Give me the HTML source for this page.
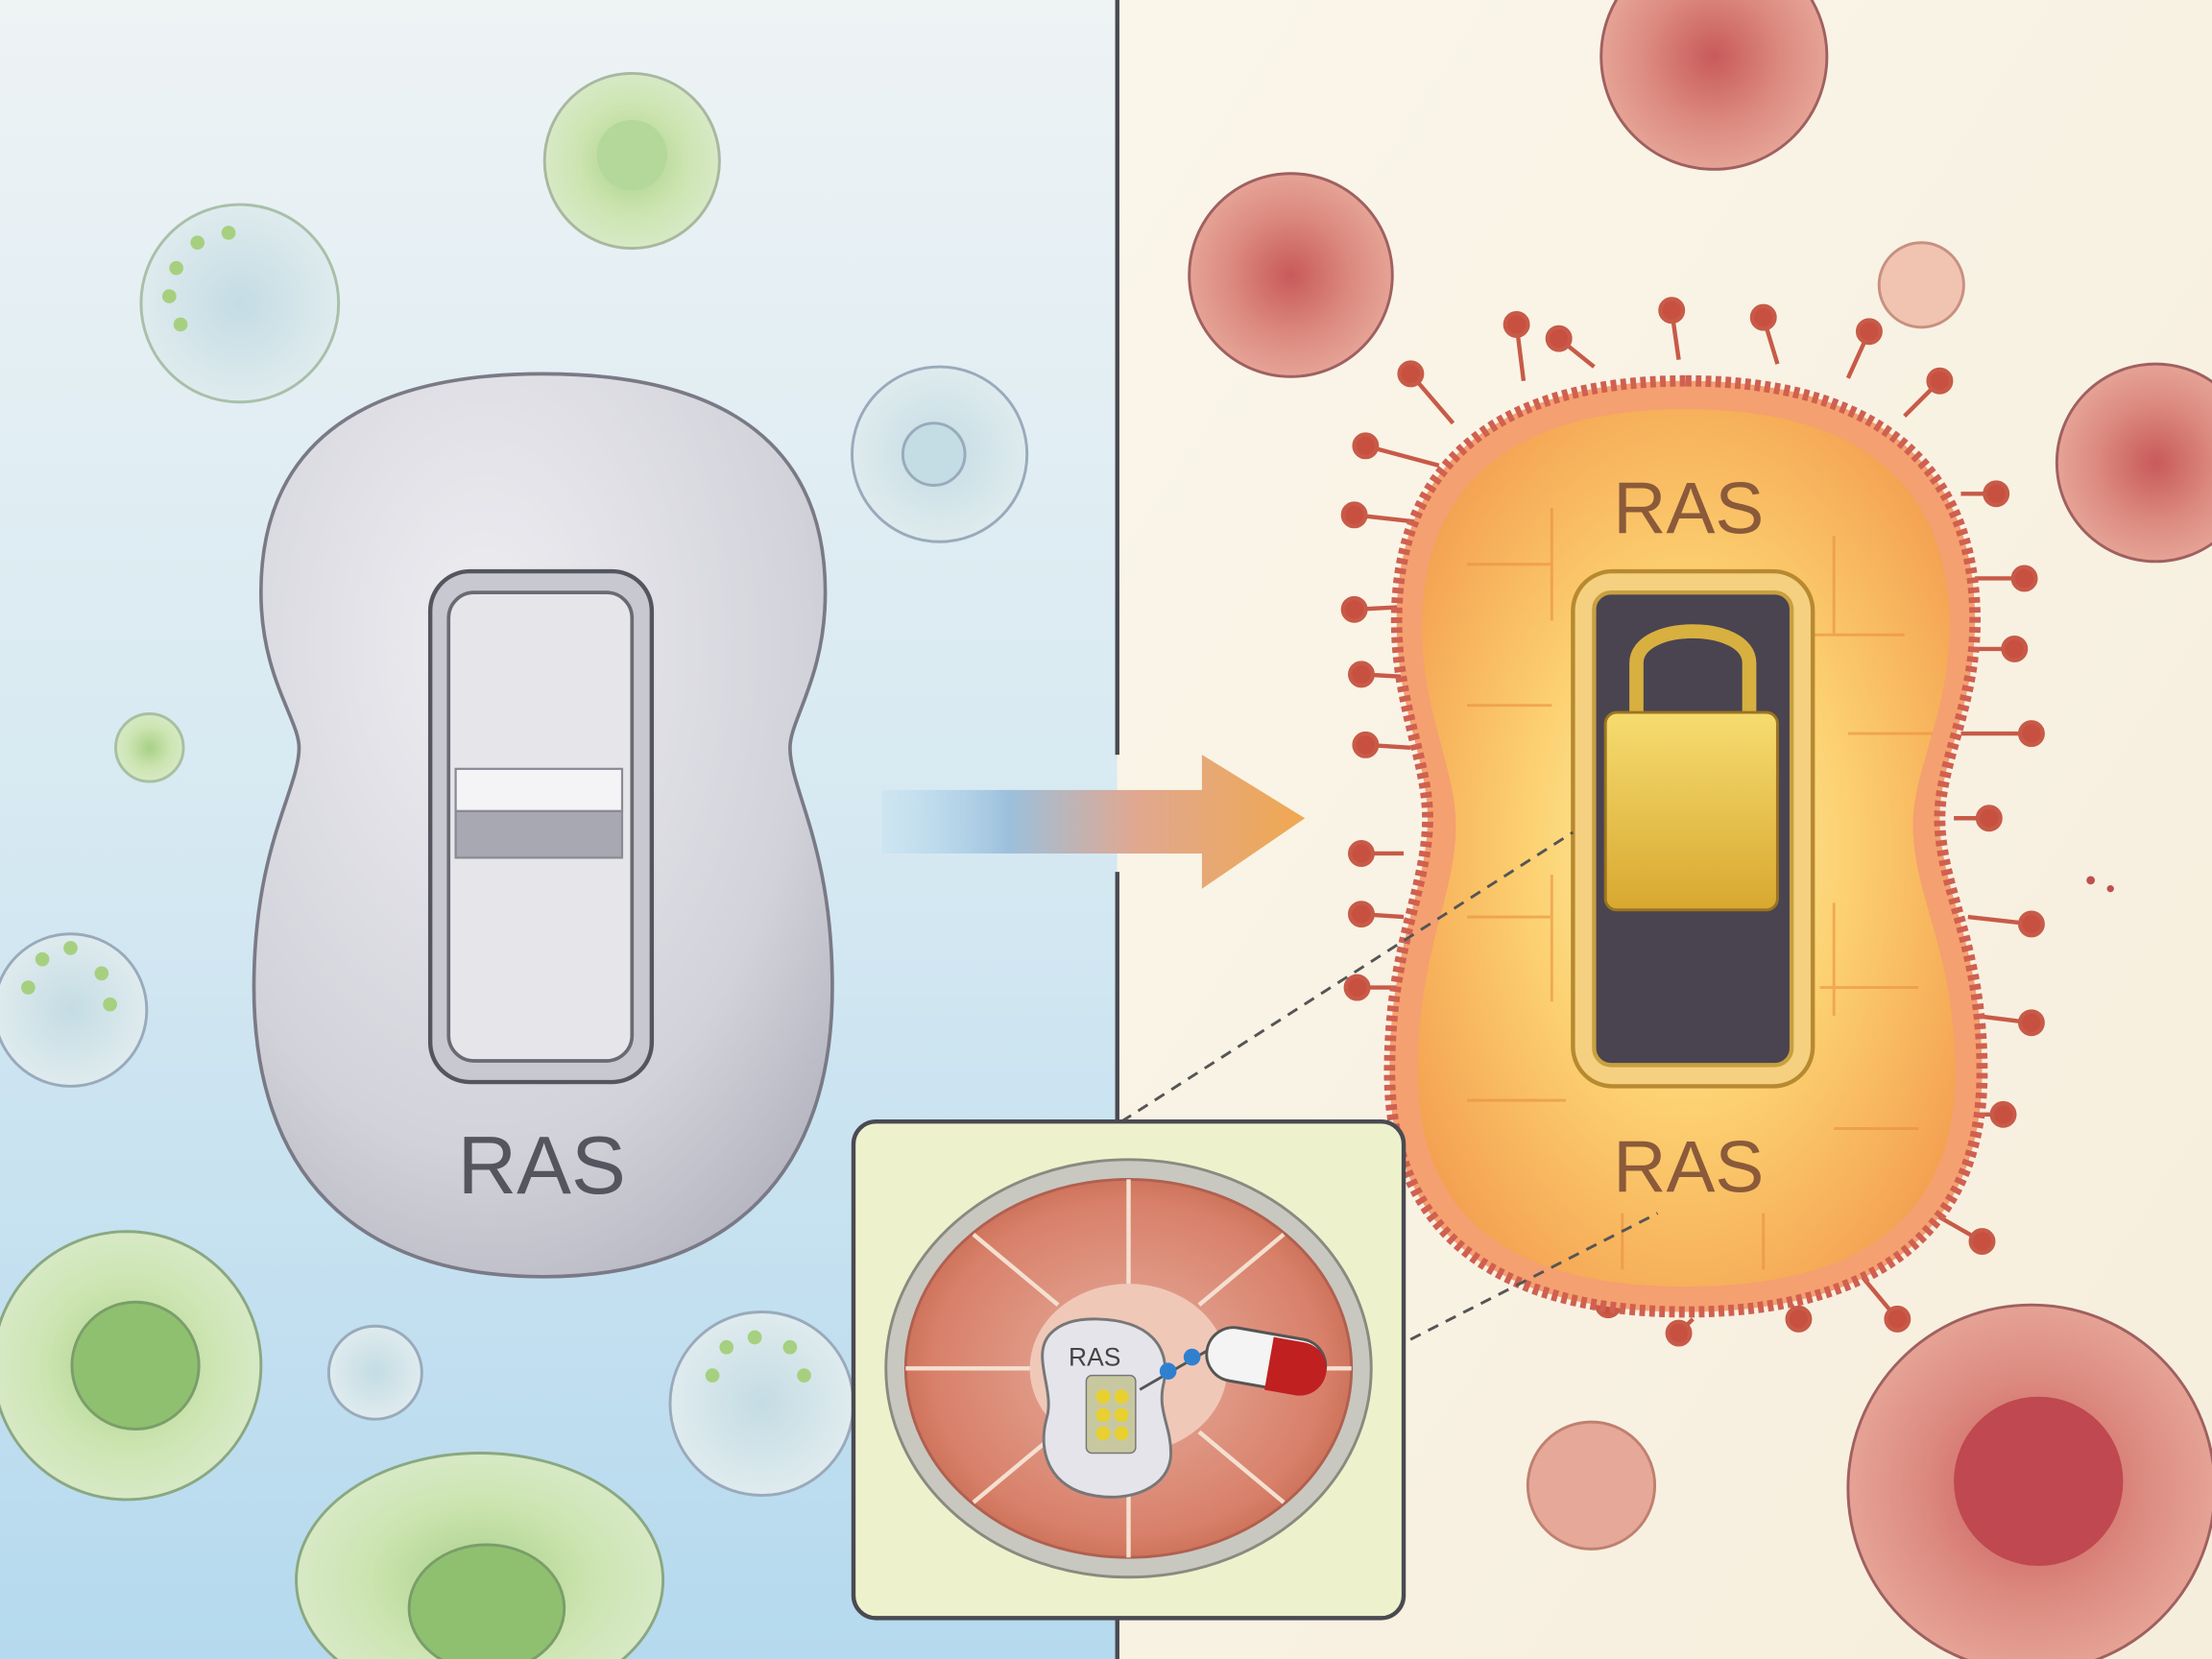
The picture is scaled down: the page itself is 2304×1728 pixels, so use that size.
<!DOCTYPE html>
<html><head><meta charset="utf-8"><style>
html,body{margin:0;padding:0;width:2304px;height:1728px;overflow:hidden;background:#f8f3e4}
svg{display:block}
text{font-family:"Liberation Sans",sans-serif}
</style></head><body>
<svg width="2304" height="1728" viewBox="0 0 1568 1176" xmlns="http://www.w3.org/2000/svg">
<defs>
<linearGradient id="lbg" x1="0" y1="0" x2="0" y2="1">
<stop offset="0" stop-color="#eef3f4"/><stop offset="0.5" stop-color="#d6e9f2"/><stop offset="1" stop-color="#b5d9ee"/></linearGradient>
<linearGradient id="rbg" x1="0" y1="0" x2="1" y2="1">
<stop offset="0" stop-color="#faf6ea"/><stop offset="1" stop-color="#f6eedc"/></linearGradient>
<linearGradient id="arr" x1="0" y1="0" x2="1" y2="0">
<stop offset="0" stop-color="#b8dcef" stop-opacity="0.3"/><stop offset="0.3" stop-color="#9cc0dc"/><stop offset="0.6" stop-color="#e0a890"/><stop offset="1" stop-color="#f0a850"/></linearGradient>
<radialGradient id="gray" cx="0.4" cy="0.3" r="0.8">
<stop offset="0" stop-color="#eeeef2"/><stop offset="0.7" stop-color="#d2d2da"/><stop offset="1" stop-color="#b4b4c0"/></radialGradient>
<radialGradient id="orange" cx="0.5" cy="0.5" r="0.6">
<stop offset="0" stop-color="#fff4b0"/><stop offset="0.5" stop-color="#fcd070"/><stop offset="1" stop-color="#f4a050"/></radialGradient>
<linearGradient id="gold" x1="0" y1="0" x2="0" y2="1">
<stop offset="0" stop-color="#f6dc70"/><stop offset="1" stop-color="#d8a830"/></linearGradient>
<radialGradient id="redcell" cx="0.5" cy="0.5" r="0.6">
<stop offset="0" stop-color="#c85a5a"/><stop offset="0.5" stop-color="#dc8a80"/><stop offset="1" stop-color="#eab0a0"/></radialGradient>
<radialGradient id="greencell" cx="0.5" cy="0.5" r="0.6">
<stop offset="0" stop-color="#a8d088"/><stop offset="0.5" stop-color="#cce4b0"/><stop offset="1" stop-color="#dcecd0"/></radialGradient>
<radialGradient id="bluecell" cx="0.5" cy="0.5" r="0.6">
<stop offset="0" stop-color="#c4dce4"/><stop offset="1" stop-color="#e4eef0"/></radialGradient>
<radialGradient id="tissue" cx="0.5" cy="0.5" r="0.55">
<stop offset="0" stop-color="#e6b0a0"/><stop offset="0.8" stop-color="#d8806a"/><stop offset="1" stop-color="#c86a50"/></radialGradient>
</defs>

<rect x="0" y="0" width="792" height="1176" fill="url(#lbg)"/>
<rect x="792" y="0" width="776" height="1176" fill="url(#rbg)"/>

<!-- left cells -->
<g stroke="#9ab" stroke-width="2">
<circle cx="448" cy="114" r="62" fill="url(#greencell)" stroke="#a8b8a0"/>
<circle cx="448" cy="110" r="25" fill="#b4d89a" stroke="none"/>
<circle cx="170" cy="215" r="70" fill="url(#bluecell)" stroke="#a8c0a8"/>
<circle cx="666" cy="322" r="62" fill="url(#bluecell)"/>
<circle cx="662" cy="322" r="22" fill="#c4dce4"/>
<circle cx="106" cy="530" r="24" fill="url(#greencell)" stroke="#a8c0a0"/>
<circle cx="50" cy="716" r="54" fill="url(#bluecell)"/>
<circle cx="90" cy="968" r="95" fill="url(#greencell)" stroke="#8aa880"/>
<circle cx="96" cy="968" r="45" fill="#8fc070" stroke="#7a9e6a"/>
<circle cx="266" cy="973" r="33" fill="url(#bluecell)"/>
<circle cx="540" cy="995" r="65" fill="url(#bluecell)"/>
<ellipse cx="340" cy="1120" rx="130" ry="90" fill="url(#greencell)" stroke="#8aa880"/>
<ellipse cx="345" cy="1140" rx="55" ry="45" fill="#8fc070" stroke="#7a9e6a"/>
</g>
<g fill="#a6d080">
<circle cx="125" cy="190" r="5"/><circle cx="120" cy="210" r="5"/><circle cx="128" cy="230" r="5"/><circle cx="140" cy="172" r="5"/><circle cx="162" cy="165" r="5"/>
<circle cx="20" cy="700" r="5"/><circle cx="30" cy="680" r="5"/><circle cx="50" cy="672" r="5"/><circle cx="72" cy="690" r="5"/><circle cx="78" cy="712" r="5"/>
<circle cx="505" cy="975" r="5"/><circle cx="515" cy="955" r="5"/><circle cx="535" cy="948" r="5"/><circle cx="560" cy="955" r="5"/><circle cx="570" cy="975" r="5"/>
</g>

<!-- gray peanut -->
<path d="M385 265 C520 265 585 320 585 420 C585 480 560 510 560 530 C560 560 590 600 590 700 C590 830 520 905 385 905 C250 905 180 830 180 700 C180 600 212 560 212 530 C212 510 185 480 185 420 C185 320 250 265 385 265 Z" fill="url(#gray)" stroke="#7a7a86" stroke-width="2.5"/>
<rect x="305" y="405" width="157" height="362" rx="28" fill="#c8c8d0" stroke="#55555e" stroke-width="3"/>
<rect x="318" y="420" width="130" height="332" rx="18" fill="#e6e6ea" stroke="#6a6a74" stroke-width="2.5"/>
<rect x="323" y="545" width="118" height="30" fill="#f4f4f6" stroke="#8a8a94" stroke-width="1.5"/>
<rect x="323" y="575" width="118" height="33" fill="#a8a8b2" stroke="#8a8a94" stroke-width="1.5"/>
<text x="384" y="846" font-size="58" text-anchor="middle" fill="#555560">RAS</text>

<!-- divider -->
<line x1="792" y1="0" x2="792" y2="535" stroke="#4a4a52" stroke-width="3"/>
<line x1="792" y1="618" x2="792" y2="1176" stroke="#4a4a52" stroke-width="3"/>

<!-- arrow -->
<path d="M625 560 H852 V535 L925 580 L852 630 V605 H625 Z" fill="url(#arr)"/>

<!-- right cells -->
<g stroke="#a06060" stroke-width="2">
<circle cx="1215" cy="40" r="80" fill="url(#redcell)"/>
<circle cx="915" cy="195" r="72" fill="url(#redcell)"/>
<circle cx="1362" cy="202" r="30" fill="#f0c4b0" stroke="#c89080"/>
<circle cx="1528" cy="328" r="70" fill="url(#redcell)"/>
<circle cx="1128" cy="1053" r="45" fill="#e6a898" stroke="#c08070"/>
<circle cx="1440" cy="1055" r="130" fill="url(#redcell)"/>
<circle cx="1445" cy="1050" r="60" fill="#c04850" stroke="none"/>
</g>
<circle cx="1482" cy="624" r="3" fill="#c05050"/><circle cx="1496" cy="630" r="2.5" fill="#c05050"/>

<!-- spikes -->
<g stroke="#c85a48" stroke-width="3" fill="#c85040">
<line x1="1030" y1="300" x2="1000" y2="265"/><circle cx="1000" cy="265" r="8"/>
<line x1="1080" y1="270" x2="1075" y2="230"/><circle cx="1075" cy="230" r="8"/>
<line x1="1130" y1="260" x2="1105" y2="240"/><circle cx="1105" cy="240" r="8"/>
<line x1="1190" y1="255" x2="1185" y2="220"/><circle cx="1185" cy="220" r="8"/>
<line x1="1260" y1="258" x2="1250" y2="225"/><circle cx="1250" cy="225" r="8"/>
<line x1="1310" y1="268" x2="1325" y2="235"/><circle cx="1325" cy="235" r="8"/>
<line x1="1350" y1="295" x2="1375" y2="270"/><circle cx="1375" cy="270" r="8"/>
<line x1="1390" y1="350" x2="1415" y2="350"/><circle cx="1415" cy="350" r="8"/>
<line x1="1400" y1="410" x2="1435" y2="410"/><circle cx="1435" cy="410" r="8"/>
<line x1="1395" y1="460" x2="1428" y2="460"/><circle cx="1428" cy="460" r="8"/>
<line x1="1390" y1="520" x2="1440" y2="520"/><circle cx="1440" cy="520" r="8"/>
<line x1="1385" y1="580" x2="1410" y2="580"/><circle cx="1410" cy="580" r="8"/>
<line x1="1395" y1="650" x2="1440" y2="655"/><circle cx="1440" cy="655" r="8"/>
<line x1="1400" y1="720" x2="1440" y2="725"/><circle cx="1440" cy="725" r="8"/>
<line x1="1395" y1="790" x2="1420" y2="790"/><circle cx="1420" cy="790" r="8"/>
<line x1="1370" y1="860" x2="1405" y2="880"/><circle cx="1405" cy="880" r="8"/>
<line x1="1320" y1="905" x2="1345" y2="935"/><circle cx="1345" cy="935" r="8"/>
<line x1="1270" y1="925" x2="1275" y2="935"/><circle cx="1275" cy="935" r="8"/>
<line x1="1200" y1="935" x2="1190" y2="945"/><circle cx="1190" cy="945" r="8"/>
<line x1="1150" y1="930" x2="1140" y2="925"/><circle cx="1140" cy="925" r="8"/>
<line x1="1020" y1="330" x2="968" y2="316"/><circle cx="968" cy="316" r="8"/>
<line x1="1005" y1="370" x2="960" y2="365"/><circle cx="960" cy="365" r="8"/>
<line x1="1000" y1="430" x2="960" y2="432"/><circle cx="960" cy="432" r="8"/>
<line x1="1000" y1="480" x2="965" y2="478"/><circle cx="965" cy="478" r="8"/>
<line x1="1000" y1="530" x2="968" y2="528"/><circle cx="968" cy="528" r="8"/>
<line x1="995" y1="605" x2="965" y2="605"/><circle cx="965" cy="605" r="8"/>
<line x1="995" y1="650" x2="965" y2="648"/><circle cx="965" cy="648" r="8"/>
<line x1="1000" y1="700" x2="962" y2="700"/><circle cx="962" cy="700" r="8"/>
</g>

<!-- orange cell -->
<path d="M1195 270 C1330 270 1400 330 1400 440 C1400 500 1375 540 1375 580 C1375 630 1405 670 1405 760 C1405 880 1320 930 1195 930 C1070 930 985 880 985 760 C985 670 1012 630 1012 580 C1012 540 990 500 990 440 C990 330 1060 270 1195 270 Z" fill="#f4a070" stroke="#d06050" stroke-width="8" stroke-dasharray="4 3"/>
<path d="M1195 290 C1320 290 1382 345 1382 445 C1382 505 1356 545 1356 585 C1356 635 1386 675 1386 760 C1386 870 1310 912 1195 912 C1080 912 1005 870 1005 760 C1005 675 1032 635 1032 585 C1032 545 1008 505 1008 445 C1008 345 1070 290 1195 290 Z" fill="url(#orange)"/>
<g stroke="#e89040" stroke-width="2" fill="none" opacity="0.6">
<path d="M1040 400 h60 M1100 360 v80 M1300 380 v70 M1280 450 h70 M1040 500 h60 M1310 520 h60 M1040 650 h60 M1100 620 v90 M1300 640 v80 M1290 700 h70 M1040 780 h70 M1300 800 h60 M1150 860 v40 M1250 860 v40"/>
</g>
<text x="1197" y="378" font-size="52" text-anchor="middle" fill="#8a5a3a">RAS</text>
<text x="1197" y="845" font-size="52" text-anchor="middle" fill="#8a5a3a">RAS</text>
<rect x="1115" y="405" width="170" height="365" rx="28" fill="#f4d080" stroke="#b88a30" stroke-width="3"/>
<rect x="1130" y="420" width="140" height="335" rx="12" fill="#4a4450" stroke="#c8a040" stroke-width="3"/>
<path d="M1160 510 V470 C1160 440 1240 440 1240 470 V510" fill="none" stroke="#d8b040" stroke-width="10"/>
<rect x="1138" y="505" width="122" height="140" rx="8" fill="url(#gold)" stroke="#9a7420" stroke-width="2"/>

<!-- dashed lines -->
<g stroke="#555" stroke-width="2" stroke-dasharray="8 6" fill="none">
<line x1="795" y1="795" x2="1115" y2="590"/>
<line x1="950" y1="975" x2="1175" y2="860"/>
</g>

<!-- inset -->
<rect x="605" y="795" width="390" height="352" rx="16" fill="#eef2cc" stroke="#4a4a52" stroke-width="3"/>
<ellipse cx="800" cy="970" rx="172" ry="148" fill="#c8c8c0" stroke="#8a8a80" stroke-width="2"/>
<ellipse cx="800" cy="970" rx="158" ry="134" fill="url(#tissue)" stroke="#b06050" stroke-width="2"/>
<ellipse cx="800" cy="970" rx="70" ry="60" fill="#f0c8b8"/>
<g stroke="#f4e0d0" stroke-width="3">
<line x1="800" y1="836" x2="800" y2="910"/><line x1="800" y1="1030" x2="800" y2="1104"/>
<line x1="642" y1="970" x2="730" y2="970"/><line x1="870" y1="970" x2="958" y2="970"/>
<line x1="690" y1="875" x2="750" y2="925"/><line x1="910" y1="875" x2="850" y2="925"/>
<line x1="690" y1="1065" x2="750" y2="1015"/><line x1="910" y1="1065" x2="850" y2="1015"/>
</g>
<path d="M775 935 C815 935 830 955 825 980 C820 1000 830 1010 830 1030 C830 1055 800 1065 775 1060 C745 1055 735 1030 742 1005 C748 985 730 960 745 945 C752 938 762 935 775 935 Z" fill="#e4e4ea" stroke="#777" stroke-width="2"/>
<text x="776" y="968" font-size="18" text-anchor="middle" fill="#444">RAS</text>
<rect x="770" y="975" width="35" height="55" rx="4" fill="#c8c8a0" stroke="#777"/>
<g fill="#e8d030"><circle cx="782" cy="990" r="5"/><circle cx="795" cy="990" r="5"/><circle cx="782" cy="1003" r="5"/><circle cx="795" cy="1003" r="5"/><circle cx="782" cy="1016" r="5"/><circle cx="795" cy="1016" r="5"/></g>
<line x1="808" y1="985" x2="860" y2="955" stroke="#555" stroke-width="2"/>
<circle cx="828" cy="972" r="6" fill="#3080d0"/><circle cx="845" cy="962" r="6" fill="#3080d0"/>
<rect x="855" y="945" width="85" height="38" rx="19" fill="#f4f4f4" stroke="#555" stroke-width="2" transform="rotate(10 897 964)"/>
<path d="M900 947 h22 a19 19 0 0 1 0 38 h-22 z" fill="#c02020" transform="rotate(10 897 964)"/>
</svg>
</body></html>
